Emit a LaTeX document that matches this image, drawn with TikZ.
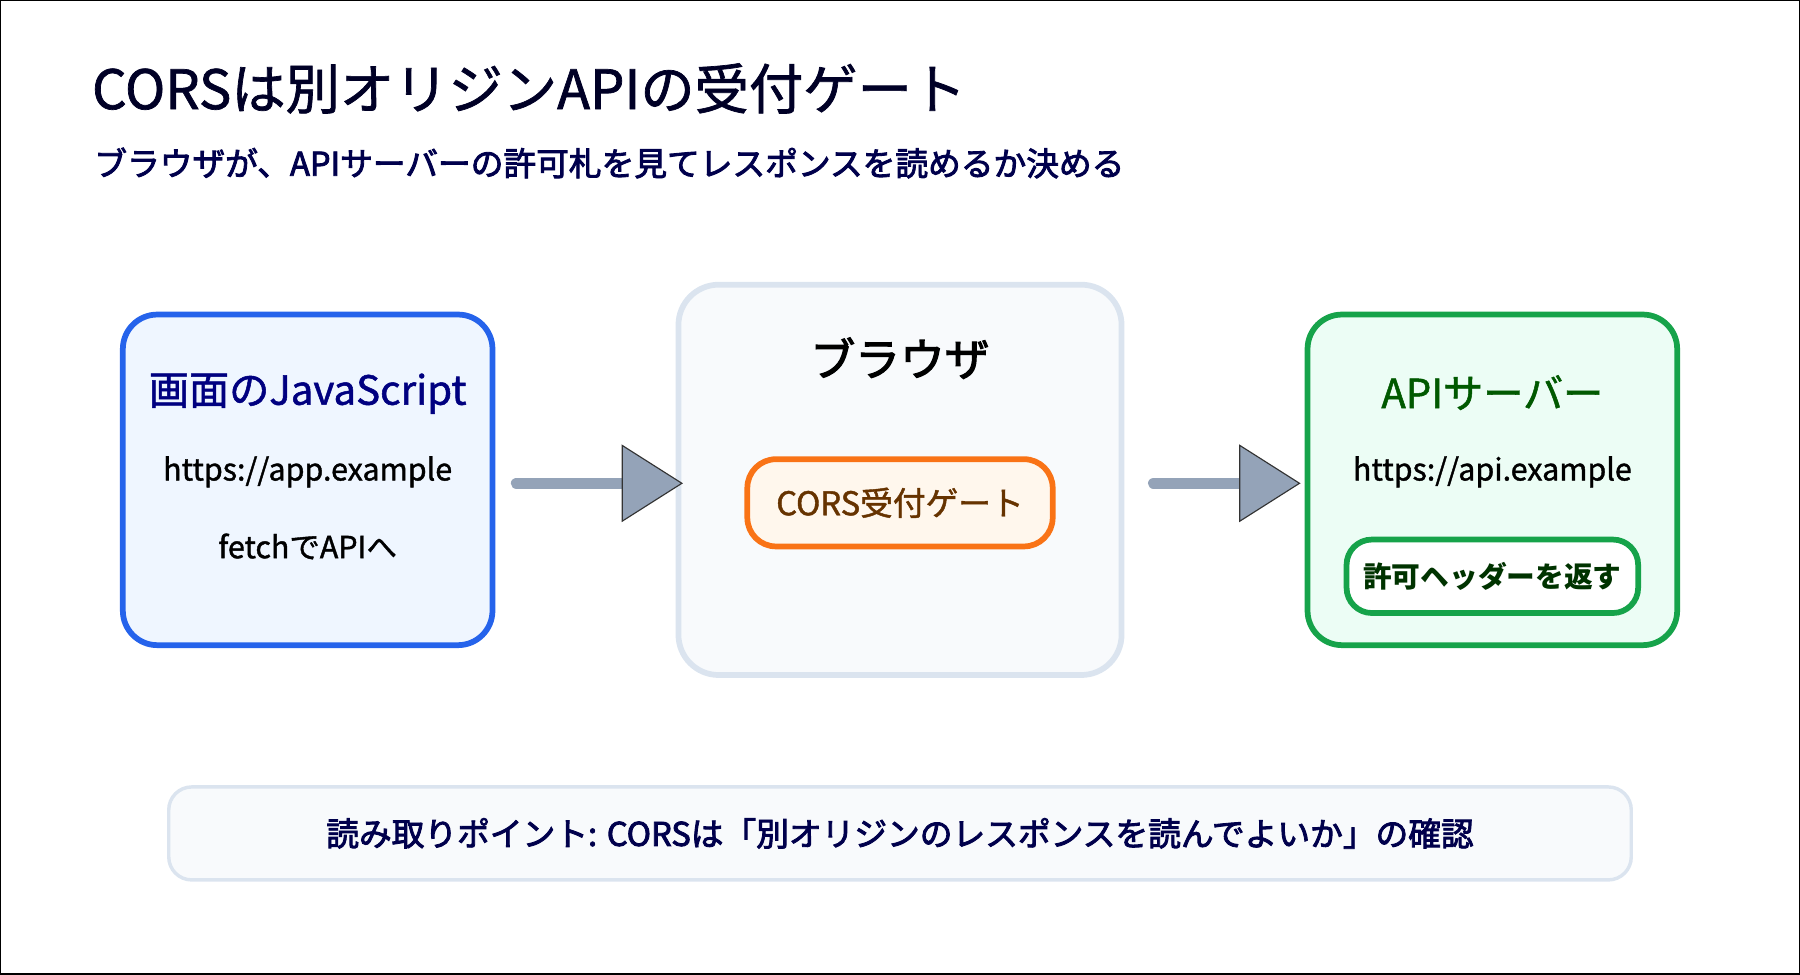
\documentclass[tikz,border=0pt]{standalone}
\usepackage{fontspec}
\setmainfont{Noto Sans CJK JP}
\newfontfamily\med[FakeBold=1.3]{Noto Sans CJK JP}
\newfontfamily\semi[FakeBold=2.6]{Noto Sans CJK JP}
\begin{document}
\begin{tikzpicture}[x=1pt,y=-1pt,
  box/.style={draw,rounded corners=30pt,line width=5pt},
  txt/.style={inner sep=0pt,anchor=center}]
\useasboundingbox (0,0) rectangle (1568,849);
\draw[black,line width=1pt] (0.5,0.5) rectangle (1567.5,848.5);
\node[txt,anchor=west,text=black!85!blue,font=\med\fontsize{47.3}{52}\selectfont] (title) at (80,77) {CORSは別オリジンAPIの受付ゲート};
\node[txt,anchor=west,text=blue!30!black,font=\semi\fontsize{28.5}{32}\selectfont] (sub) at (82,142) {ブラウザが、APIサーバーの許可札を見てレスポンスを読めるか決める};
% left
\definecolor{bl}{HTML}{2563EB}\definecolor{blf}{HTML}{EFF6FF}
\node[box,draw=bl,fill=blf,minimum width=322pt,minimum height=288pt] (L) at (268,418) {};
\node[txt,text=blue!50!black,font=\med\fontsize{35}{40}\selectfont] (l1) at (268,343) {画面のJavaScript};
\node[txt,font=\med\fontsize{26.5}{30}\selectfont] (l2) at (268,411) {https://app.example};
\node[txt,font=\med\fontsize{26.5}{30}\selectfont] (l3) at (268,476) {fetchでAPIへ};
% middle
\definecolor{gb}{HTML}{DBE4EF}\definecolor{gf}{HTML}{F8FAFC}
\node[box,draw=gb,fill=gf,minimum width=386pt,minimum height=340pt,rounded corners=35pt] (M) at (784,418) {};
\node[txt,font=\semi\fontsize{39}{44}\selectfont] (m1) at (784,312) {ブラウザ};
\definecolor{or}{HTML}{F97316}\definecolor{orf}{HTML}{FFF7ED}
\node[box,draw=or,fill=orf,minimum width=266pt,minimum height=76pt,rounded corners=25pt,text=orange!40!black,font=\med\fontsize{28.5}{32}\selectfont] (gate) at (784,438) {CORS受付ゲート};
% right
\definecolor{gr}{HTML}{16A34A}\definecolor{grf}{HTML}{ECFDF5}
\node[box,draw=gr,fill=grf,minimum width=322pt,minimum height=288pt] (R) at (1300,418) {};
\node[txt,text=green!35!black,font=\med\fontsize{35}{40}\selectfont] (r1) at (1300,342) {APIサーバー};
\node[txt,font=\med\fontsize{26.5}{30}\selectfont] (r2) at (1300,411) {https://api.example};
\node[box,draw=gr,fill=white,minimum width=254pt,minimum height=64pt,rounded corners=22pt,text=green!20!black,font=\bfseries\fontsize{25}{28}\selectfont] (hdr) at (1300,502) {許可ヘッダーを返す};
% arrows
\definecolor{ag}{HTML}{94A3B8}
\coordinate (a1s) at (450,421); \coordinate (a1e) at (542,421);
\draw[ag,line width=10pt,line cap=round] (a1s) -- (a1e);
\filldraw[fill=ag,draw=black!80,line width=1pt] (542,388) -- (594,421) -- (542,454) -- cycle;
\coordinate (a2s) at (1005,421); \coordinate (a2e) at (1080,421);
\draw[ag,line width=10pt,line cap=round] (a2s) -- (a2e);
\filldraw[fill=ag,draw=black!80,line width=1pt] (1080,388) -- (1132,421) -- (1080,454) -- cycle;
% bottom
\node[box,draw=gb,fill=gf,line width=3pt,rounded corners=20pt,minimum width=1274pt,minimum height=81pt] (B) at (784,726) {};
\node[txt,text=blue!30!black,font=\semi\fontsize{28.5}{32}\selectfont] (bt) at (784,726) {読み取りポイント: CORSは「別オリジンのレスポンスを読んでよいか」の確認};
\end{tikzpicture}
\end{document}
